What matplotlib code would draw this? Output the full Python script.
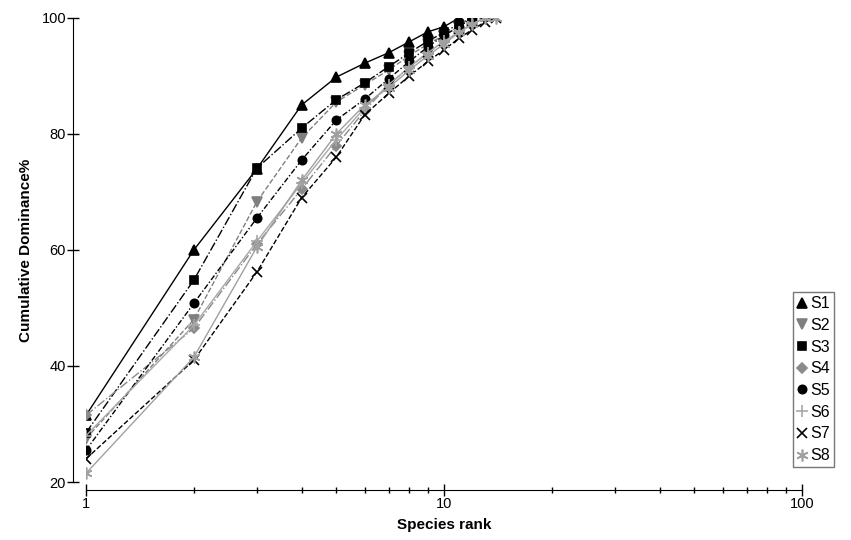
import matplotlib
matplotlib.use("Agg")
import matplotlib.pyplot as plt
from matplotlib.ticker import LogLocator, NullFormatter, FixedLocator

plt.rcParams['font.family'] = ['Liberation Sans Narrow', 'Liberation Sans', 'DejaVu Sans']

# cumulative dominance (%) by species rank
s1 = [31.5, 60.0, 74.0, 85.0, 89.8, 92.2, 94.0, 95.9, 97.6, 98.5, 100.0]
s2 = [27.5, 48.0, 68.3, 79.3, 85.5, 88.5, 91.0, 93.5, 95.5, 97.0, 98.5, 100.0]
s3 = [28.5, 54.8, 74.1, 81.0, 85.9, 88.8, 91.6, 94.0, 96.0, 97.5, 99.0, 100.0]
s4 = [31.5, 46.5, 61.0, 70.5, 78.0, 84.0, 88.5, 91.5, 94.0, 96.0, 97.5, 99.0, 100.0]
s5 = [25.5, 50.8, 65.5, 75.5, 82.4, 86.0, 89.5, 92.5, 95.0, 97.0, 98.5, 100.0]
s6 = [28.0, 47.0, 61.5, 71.5, 79.0, 84.5, 88.5, 91.5, 94.0, 96.0, 97.5, 99.0, 100.0]
s7 = [24.0, 41.0, 56.2, 69.0, 76.0, 83.3, 87.0, 90.0, 92.5, 94.5, 96.5, 98.0, 99.3, 100.0]
s8 = [21.5, 41.5, 60.5, 72.0, 80.0, 85.0, 88.0, 91.0, 93.5, 95.5, 97.5, 99.0, 100.0, 100.0]

names = ["S1", "S2", "S3", "S4", "S5", "S6", "S7", "S8"]
series = [s1, s2, s3, s4, s5, s6, s7, s8]

styles = [
    dict(color="black", marker="^", ls="-", ms=6.5),
    dict(color="#7f7f7f", marker="v", ls="--", ms=6.5),
    dict(color="black", marker="s", ls="-.", ms=6),
    dict(color="#8a8a8a", marker="D", ls="-.", ms=5),
    dict(color="black", marker="o", ls=(0, (4, 1.5, 1, 1.5)), ms=6),
    dict(color="#a8a8a8", marker="+", ls="-", ms=8.5),
    dict(color="black", marker="x", ls="--", ms=6.5),
    dict(color="#a0a0a0", marker=(6, 2, 0), ls="-", ms=8.5),
]

fig = plt.figure(figsize=(8.51, 5.40), dpi=100)
ax = fig.add_axes([0.1011, 0.1074, 0.8414, 0.8593])

for name, vals, st in zip(names, series, styles):
    ranks = list(range(1, len(vals) + 1))
    ax.plot(ranks, vals, color=st["color"], marker=st["marker"], ls=st["ls"],
            ms=st["ms"], lw=1.0, mew=1.2, label=name)

ax.set_xscale("log")
ax.set_xlim(1, 100)
ax.set_ylim(20, 100)
ax.yaxis.set_major_locator(FixedLocator([20, 40, 60, 80, 100]))
ax.xaxis.set_major_locator(FixedLocator([1, 10, 100]))
ax.set_xticklabels(["1", "10", "100"])
ax.xaxis.set_minor_locator(LogLocator(base=10, subs=range(2, 10)))
ax.xaxis.set_minor_formatter(NullFormatter())

for side in ["top", "right"]:
    ax.spines[side].set_visible(False)
ax.spines["left"].set_position(("outward", 9.4))
ax.spines["bottom"].set_position(("outward", 5.8))
ax.spines["left"].set_bounds(20, 100)
ax.spines["bottom"].set_bounds(1, 100)

ax.tick_params(axis="both", which="major", direction="inout", length=8, width=1, labelsize=10.5, pad=1)
ax.tick_params(axis="x", which="minor", direction="inout", length=5, width=1)

ax.set_xlabel("Species rank", fontsize=11, fontweight="bold", labelpad=5)
ax.set_ylabel("Cumulative Dominance%", fontsize=11, fontweight="bold", labelpad=6)

leg = ax.legend(loc="upper left", bbox_to_anchor=(0.932, 0.459), bbox_transform=fig.transFigure,
                frameon=True, fancybox=False, edgecolor="#555555", fontsize=11.5,
                handlelength=0.6, handletextpad=0.25, borderpad=0.25, labelspacing=0.42,
                borderaxespad=0)
for h in leg.legend_handles:
    h.set_linestyle("none")

fig.savefig("out.png", dpi=100)
